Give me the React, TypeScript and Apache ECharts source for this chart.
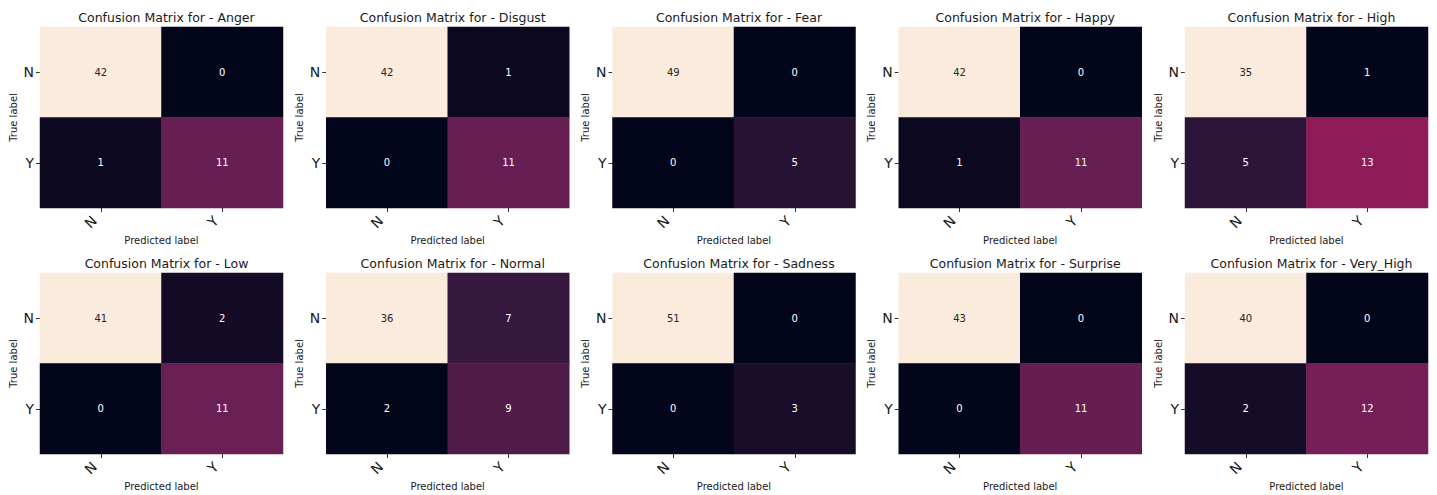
import React, { useEffect, useRef } from "react";
import * as echarts from "echarts";

const emotions = ["Anger", "Disgust", "Fear", "Happy", "High", "Low", "Normal", "Sadness", "Surprise", "Very_High"];
const labels = ["N", "Y"];
// rows = true label (N, Y), columns = predicted label (N, Y)
const anger = [[42, 0], [1, 11]];
const disgust = [[42, 1], [0, 11]];
const fear = [[49, 0], [0, 5]];
const happy = [[42, 0], [1, 11]];
const high = [[35, 1], [5, 13]];
const low = [[41, 2], [0, 11]];
const normal = [[36, 7], [2, 9]];
const sadness = [[51, 0], [0, 3]];
const surprise = [[43, 0], [0, 11]];
const veryHigh = [[40, 0], [2, 12]];
const matrices = [anger, disgust, fear, happy, high, low, normal, sadness, surprise, veryHigh];

const rocket = ["#03051a", "#35193e", "#701f57", "#ad1759", "#e13342", "#f37651", "#f6b48f", "#faebdd"];

const FONT = "DejaVu Sans";

export default function App() {
  const ref = useRef<HTMLDivElement>(null);
  useEffect(() => {
    document.body.style.margin = "0";
    const chart = echarts.init(ref.current!, null, { renderer: "svg" });
    const grids: any[] = [];
    const xAxes: any[] = [];
    const yAxes: any[] = [];
    const series: any[] = [];
    const visualMaps: any[] = [];
    const titles: any[] = [];
    const W = 243;
    const H = 181;
    matrices.forEach((m, i) => {
      const row = Math.floor(i / 5);
      const col = i % 5;
      const left = 40 + col * 286.25;
      const top = row === 0 ? 27 : 273;
      grids.push({ left, top, width: W, height: H });
      titles.push({
        text: "Confusion Matrix for - " + emotions[i],
        left: left + W / 2,
        top: top - 21,
        textAlign: "center",
        textStyle: { fontFamily: FONT, fontSize: 12.5, fontWeight: "normal", color: "#1a1a1a" },
      });
      xAxes.push({
        type: "category",
        gridIndex: i,
        data: labels,
        name: "Predicted label",
        nameLocation: "middle",
        nameGap: 27,
        nameTextStyle: { fontFamily: FONT, fontSize: 10, color: "#1a1a1a" },
        axisLine: { show: false },
        axisTick: { show: true, alignWithLabel: true, length: 4, lineStyle: { color: "#333" } },
        axisLabel: { rotate: 45, fontFamily: FONT, fontSize: 14, color: "#1a1a1a", margin: 4, padding: [0, 9, 0, 0] },
        splitLine: { show: false },
      });
      yAxes.push({
        type: "category",
        gridIndex: i,
        data: labels,
        inverse: true,
        name: "True label",
        nameLocation: "middle",
        nameRotate: 90,
        nameGap: 22,
        nameTextStyle: { fontFamily: FONT, fontSize: 10, color: "#1a1a1a" },
        axisLine: { show: false },
        axisTick: { show: true, alignWithLabel: true, length: 4, lineStyle: { color: "#333" } },
        axisLabel: { fontFamily: FONT, fontSize: 14, color: "#1a1a1a", margin: 6 },
        splitLine: { show: false },
      });
      const vmax = Math.max(...m.flat());
      const vmin = Math.min(...m.flat());
      const data: any[] = [];
      m.forEach((r, ri) =>
        r.forEach((v, ci) => {
          const frac = (v - vmin) / (vmax - vmin);
          data.push({
            value: [ci, ri, v],
            label: { color: frac > 0.6 ? "#262626" : "#ffffff" },
          });
        })
      );
      series.push({
        type: "heatmap",
        xAxisIndex: i,
        yAxisIndex: i,
        data,
        label: { show: true, fontFamily: FONT, fontSize: 10, textBorderWidth: 0, textShadowBlur: 0 },
        itemStyle: { borderWidth: 0 },
        emphasis: { disabled: true },
      });
      visualMaps.push({
        type: "continuous",
        show: false,
        seriesIndex: i,
        dimension: 2,
        min: vmin,
        max: vmax,
        inRange: { color: rocket },
      });
    });
    chart.setOption({
      animation: false,
      backgroundColor: "#ffffff",
      title: titles,
      grid: grids,
      xAxis: xAxes,
      yAxis: yAxes,
      visualMap: visualMaps,
      series,
    });
    return () => chart.dispose();
  }, []);
  return <div ref={ref} style={{ width: 1437, height: 495 }} />;
}
